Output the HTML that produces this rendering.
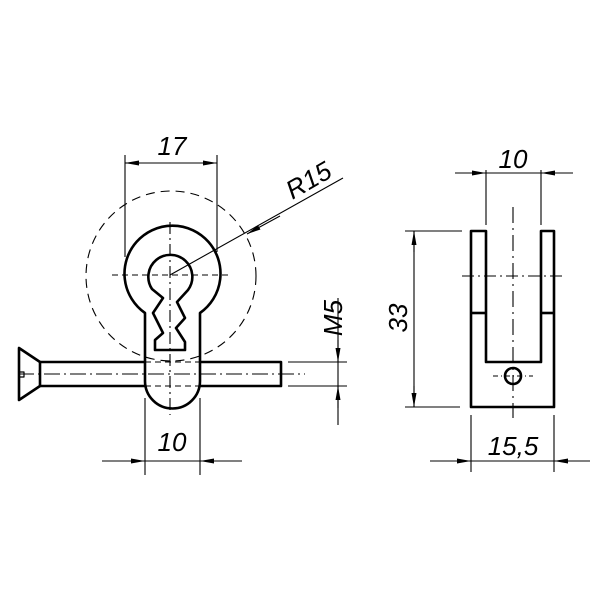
<!DOCTYPE html>
<html><head><style>html,body{margin:0;padding:0;background:#fff}svg{display:block}</style></head>
<body>
<svg width="600" height="600" viewBox="0 0 600 600" xmlns="http://www.w3.org/2000/svg">
<defs>
<marker id="a" markerWidth="14" markerHeight="8" refX="14" refY="4" orient="auto" markerUnits="userSpaceOnUse">
<path d="M0,1.5 L14,4 L0,6.5 Z" fill="#000"/></marker>
</defs>
<g font-family="Liberation Sans, sans-serif" font-style="italic" font-size="26" fill="#000" text-anchor="middle">
<text x="172" y="155">17</text>
<text x="172" y="451">10</text>
<text x="513" y="168">10</text>
<text x="513" y="455">15,5</text>
<text transform="translate(407,318) rotate(-90)">33</text>
<text transform="translate(342,318) rotate(-90)">M5</text>
<text transform="translate(313,188) rotate(-30)">R15</text>
</g>
<g fill="none" stroke="#000" stroke-width="1.1">
<line x1="125" y1="155" x2="125" y2="257"/><line x1="217" y1="155" x2="217" y2="252"/>
<line x1="140" y1="163" x2="125" y2="163" marker-end="url(#a)"/><line x1="200" y1="163" x2="217" y2="163" marker-end="url(#a)"/>
<line x1="125" y1="163" x2="217" y2="163"/>
<line x1="170" y1="275" x2="343" y2="178"/>
<line x1="280" y1="216" x2="247" y2="234" marker-end="url(#a)"/>
<circle cx="171" cy="276" r="85" stroke-dasharray="9,6"/>
<line x1="170" y1="222" x2="170" y2="415" stroke-dasharray="12,4,2,4"/>
<line x1="112" y1="275" x2="232" y2="275" stroke-dasharray="6,4"/>
<line x1="18" y1="374" x2="305" y2="374" stroke-dasharray="16,4,2,4"/>
<line x1="145" y1="362" x2="200" y2="362" stroke-dasharray="6,4"/>
<line x1="145" y1="386" x2="200" y2="386" stroke-dasharray="6,4"/>
<line x1="288" y1="362" x2="347" y2="362"/><line x1="288" y1="386" x2="347" y2="386"/>
<line x1="338" y1="298" x2="338" y2="425"/>
<line x1="338" y1="340" x2="338" y2="362" marker-end="url(#a)"/>
<line x1="338" y1="408" x2="338" y2="386" marker-end="url(#a)"/>
<line x1="145" y1="398" x2="145" y2="475"/><line x1="200" y1="398" x2="200" y2="475"/>
<line x1="102" y1="461" x2="242" y2="461"/>
<line x1="125" y1="461" x2="145" y2="461" marker-end="url(#a)"/>
<line x1="220" y1="461" x2="200" y2="461" marker-end="url(#a)"/>
<line x1="486" y1="170" x2="486" y2="225"/><line x1="541" y1="170" x2="541" y2="225"/>
<line x1="455" y1="173" x2="573" y2="173"/>
<line x1="466" y1="173" x2="486" y2="173" marker-end="url(#a)"/>
<line x1="561" y1="173" x2="541" y2="173" marker-end="url(#a)"/>
<line x1="405" y1="231" x2="462" y2="231"/><line x1="405" y1="407" x2="460" y2="407"/>
<line x1="414" y1="231" x2="414" y2="407"/>
<line x1="414" y1="252" x2="414" y2="231" marker-end="url(#a)"/>
<line x1="414" y1="386" x2="414" y2="407" marker-end="url(#a)"/>
<line x1="471" y1="415" x2="471" y2="472"/><line x1="554" y1="415" x2="554" y2="472"/>
<line x1="430" y1="461" x2="590" y2="461"/>
<line x1="451" y1="461" x2="471" y2="461" marker-end="url(#a)"/>
<line x1="574" y1="461" x2="554" y2="461" marker-end="url(#a)"/>
<line x1="513" y1="207" x2="513" y2="418" stroke-dasharray="16,5,2,5"/>
<line x1="462" y1="276" x2="565" y2="276" stroke-dasharray="12,4,2,4"/>
<line x1="493" y1="376" x2="533" y2="376" stroke-dasharray="5,3,1,3"/>
</g>
<g fill="none" stroke="#000" stroke-width="2.6" stroke-linejoin="round">
<path d="M145,313 A48,48 0 1 1 200,313 L200,381 A27.5,27.5 0 0 1 145,381 Z"/>
<path d="M152,289 A22,22 0 1 1 188,290 L177,302 L185,318 L176,328 L185,342 L185,350 L155,350 L155,340 L163,333 L153,313 L163,298 Z"/>
<path d="M145,362 L40,362 L40,386 L145,386"/>
<path d="M200,362 L281,362 L281,386 L200,386"/>
<path d="M40,362 L19,348 L19,400 L40,386"/>
<path d="M19,372 L24,372 L24,377 L19,377" stroke-width="1.2"/>
<path d="M471,231 L486,231 L486,362 L541,362 L541,231 L554,231 L554,407 L471,407 Z"/>
<line x1="471" y1="313" x2="486" y2="313"/><line x1="541" y1="313" x2="554" y2="313"/>
<circle cx="513" cy="376" r="8"/>
</g>
</svg>
</body></html>
